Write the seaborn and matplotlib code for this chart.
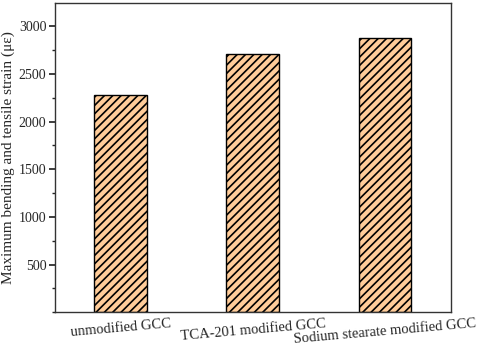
import numpy as np
import pandas as pd
import matplotlib
matplotlib.use("Agg")
import matplotlib.pyplot as plt
import seaborn as sns
from matplotlib.ticker import MultipleLocator

categories = ["unmodified GCC", "TCA-201 modified GCC", "Sodium stearate modified GCC"]
strain = [2280, 2710, 2875]

df = pd.DataFrame({"sample": categories, "strain": strain})

sns.set_theme(style="ticks")
plt.rcParams["font.family"] = ["Liberation Serif", "DejaVu Serif"]
plt.rcParams["hatch.linewidth"] = 1.2
plt.rcParams["hatch.color"] = "black"

fig, ax = plt.subplots(figsize=(4.84, 3.45), dpi=100)
sns.barplot(
    data=df,
    x="sample",
    y="strain",
    color="#FFCC99",
    saturation=1,
    width=0.4,
    edgecolor="black",
    linewidth=1.0,
    hatch="////",
    ax=ax,
)

ax.set_xlim(-0.5, 2.5)
ax.set_ylim(0, 3240)
ax.yaxis.set_minor_locator(MultipleLocator(250))
ax.set_yticks([500, 1000, 1500, 2000, 2500, 3000])
ax.tick_params(axis="y", which="major", direction="out", length=4, pad=2, labelsize=10)
ax.tick_params(axis="y", which="minor", direction="out", length=2)
ax.tick_params(axis="x", direction="in", length=3, labelsize=10.5)
plt.setp(ax.get_xticklabels(), rotation=5, ha="center")

ax.set_xlabel("")
ax.set_ylabel("Maximum bending and tensile strain (με)", fontsize=11, labelpad=3)
for side in ["top", "right", "left", "bottom"]:
    ax.spines[side].set_visible(True)
    ax.spines[side].set_color("#333333")
    ax.spines[side].set_linewidth(1.0)

plt.subplots_adjust(left=0.113, right=0.932, top=0.99, bottom=0.095)
fig.savefig("out.png", dpi=100)
